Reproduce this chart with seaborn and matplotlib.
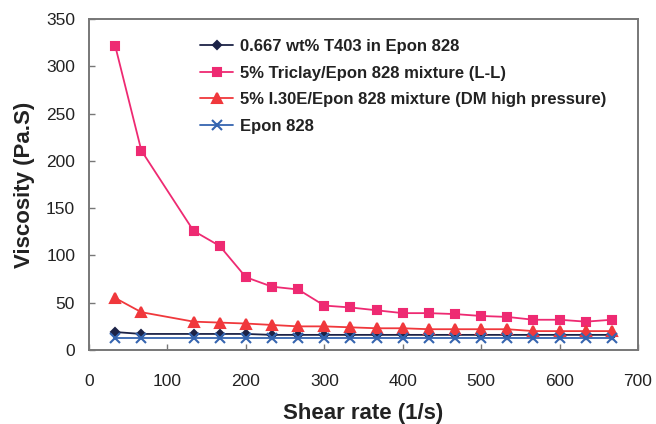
import pandas as pd
import seaborn as sns
import matplotlib.pyplot as plt

# Set style
sns.set_style("white")
plt.rcParams['font.family'] = ['Liberation Sans', 'DejaVu Sans']

# Data
shear_rate = [33.3, 66.7, 133.3, 166.7, 200, 233.3, 266.7, 300, 333.3, 366.7,
              400, 433.3, 466.7, 500, 533.3, 566.7, 600, 633.3, 666.7]
t403 = [19, 17, 17, 17, 17, 16, 16, 16, 16, 16,
        16, 16, 16, 16, 16, 16, 16, 16, 16]
triclay = [322, 211, 126, 110, 77, 67, 64, 47, 45, 42,
           39, 39, 38, 36, 35, 32, 32, 30, 32]
i30e = [55, 40, 30, 29, 28, 26.5, 25, 25, 24, 23,
        23, 22, 22, 22, 22, 20, 20, 20, 20]
epon = [13, 13, 13, 13, 13, 13, 13, 13, 13, 13,
        13, 13, 13, 13, 13, 13, 13, 13, 13]

series_names = ['0.667 wt% T403 in Epon 828',
                '5% Triclay/Epon 828 mixture (L-L)',
                '5% I.30E/Epon 828 mixture (DM high pressure)',
                'Epon 828']
series_values = [t403, triclay, i30e, epon]
colors = ['#1c2347', '#ee2a72', '#f0383c', '#3565b0']
markers = ['D', 's', '^', 'x']
msizes = [4.5, 6, 6.5, 6.5]

fig = plt.figure(figsize=(6.56, 4.24), dpi=100)
ax = fig.add_axes([0.1357, 0.1745, 0.8369, 0.7805])

for name, vals, c, m, ms in zip(series_names, series_values, colors, markers, msizes):
    df = pd.DataFrame({'Shear rate': shear_rate, 'Viscosity': vals})
    sns.lineplot(data=df, x='Shear rate', y='Viscosity', color=c, marker=m,
                 markersize=ms, markeredgecolor=c, markeredgewidth=1.5,
                 linewidth=1.3, label=name, ax=ax)

ax.set_xlim(0, 700)
ax.set_ylim(0, 350)
ax.set_xticks(range(0, 701, 100))
ax.set_yticks(range(0, 351, 50))
ax.tick_params(axis='both', direction='in', length=4, width=1, color='#777777',
               labelsize=12.5, labelcolor='#222222', left=True, bottom=True)
ax.tick_params(axis='x', pad=17)
ax.tick_params(axis='y', pad=10)

for s in ax.spines.values():
    s.set_color('#777777')
    s.set_linewidth(1.4)

ax.set_xlabel('Shear rate (1/s)', fontsize=16, fontweight='bold', color='#222222', labelpad=10)
ax.set_ylabel('Viscosity (Pa.S)', fontsize=16, fontweight='bold', color='#222222', labelpad=8)

leg = ax.legend(loc='upper left', bbox_to_anchor=(0.202, 0.94), frameon=False,
                borderaxespad=0, borderpad=0, handlelength=2.0, handletextpad=0.42,
                labelspacing=0.7, prop={'weight': 'bold', 'size': 12})
for t in leg.get_texts():
    t.set_color('#222222')

plt.savefig('out.png', dpi=100)
plt.close()
